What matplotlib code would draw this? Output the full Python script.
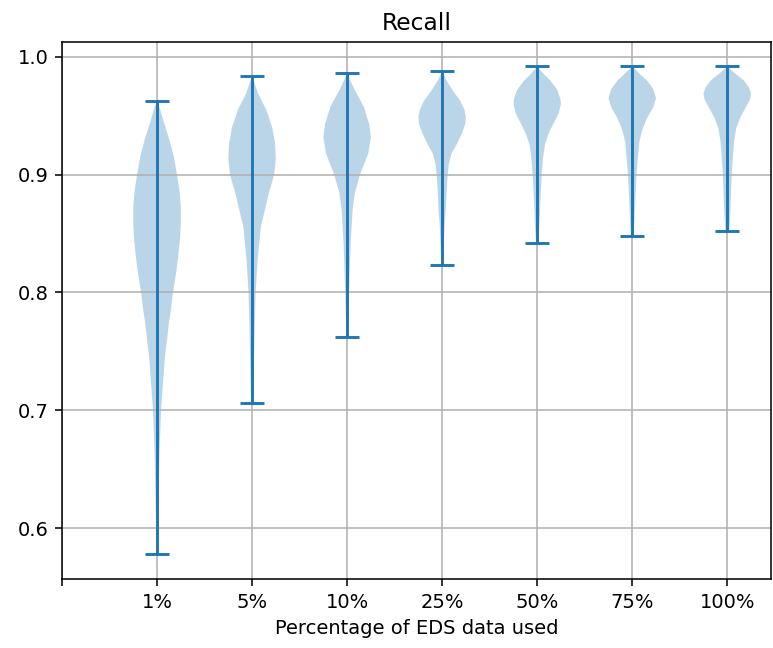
import numpy as np
import matplotlib
matplotlib.use("Agg")
import matplotlib.pyplot as plt

labels = ["1%", "5%", "10%", "25%", "50%", "75%", "100%"]

# Recall at which each density profile is sampled, with the relative violin width there
recall_1 = [0.578, 0.618, 0.661, 0.700, 0.745, 0.760, 0.774, 0.788, 0.800, 0.816, 0.830, 0.844,
            0.858, 0.873, 0.887, 0.900, 0.915, 0.929, 0.943, 0.955, 0.963]
width_1 = [0.03, 0.06, 0.10, 0.17, 0.33, 0.42, 0.50, 0.60, 0.67, 0.80, 0.89, 0.96,
           1.00, 1.00, 0.94, 0.84, 0.71, 0.53, 0.31, 0.14, 0.0]

recall_5 = [0.706, 0.729, 0.771, 0.800, 0.827, 0.856, 0.870, 0.884, 0.900, 0.914, 0.926, 0.940, 0.955, 0.969, 0.984]
width_5 = [0.04, 0.07, 0.11, 0.15, 0.23, 0.37, 0.54, 0.70, 0.93, 1.00, 0.97, 0.85, 0.60, 0.25, 0.0]

recall_10 = [0.762, 0.800, 0.842, 0.870, 0.884, 0.900, 0.918, 0.932, 0.943, 0.958, 0.972, 0.986]
width_10 = [0.03, 0.08, 0.15, 0.23, 0.32, 0.54, 0.89, 1.00, 0.93, 0.70, 0.32, 0.0]

recall_25 = [0.823, 0.856, 0.870, 0.884, 0.900, 0.909, 0.918, 0.926, 0.935, 0.943, 0.949,
             0.955, 0.963, 0.971, 0.980, 0.988]
width_25 = [0.03, 0.10, 0.15, 0.18, 0.23, 0.28, 0.39, 0.61, 0.82, 0.96, 0.99,
            0.93, 0.75, 0.46, 0.18, 0.0]

recall_50 = [0.842, 0.856, 0.870, 0.884, 0.900, 0.915, 0.926, 0.935, 0.944, 0.952, 0.960,
             0.964, 0.972, 0.980, 0.986, 0.992]
width_50 = [0.05, 0.09, 0.12, 0.15, 0.19, 0.25, 0.33, 0.48, 0.70, 0.90, 1.00,
            0.98, 0.85, 0.55, 0.25, 0.0]

recall_75 = [0.848, 0.870, 0.884, 0.900, 0.915, 0.928, 0.938, 0.948, 0.957, 0.965, 0.973,
             0.980, 0.986, 0.992]
width_75 = [0.06, 0.11, 0.14, 0.18, 0.24, 0.30, 0.42, 0.62, 0.88, 1.00, 0.88,
            0.62, 0.30, 0.0]

recall_100 = [0.852, 0.870, 0.884, 0.900, 0.918, 0.929, 0.940, 0.949, 0.957, 0.964, 0.969,
              0.974, 0.980, 0.986, 0.992]
width_100 = [0.08, 0.13, 0.15, 0.18, 0.24, 0.28, 0.37, 0.54, 0.75, 0.93, 0.97,
             0.89, 0.68, 0.32, 0.0]

recalls = [recall_1, recall_5, recall_10, recall_25, recall_50, recall_75, recall_100]
widths = [width_1, width_5, width_10, width_25, width_50, width_75, width_100]

stats = []
for r, w in zip(recalls, widths):
    r = np.asarray(r)
    stats.append({
        "coords": r,
        "vals": np.asarray(w),
        "mean": float(np.average(r, weights=w)),
        "median": float(np.average(r, weights=w)),
        "min": float(r.min()),
        "max": float(r.max()),
    })

dpi = 140
fig = plt.figure(figsize=(773 / dpi, 648 / dpi), dpi=dpi)
ax = fig.add_axes([62 / 773, 69 / 648, 709 / 773, 537 / 648])

positions = np.arange(1, len(labels) + 1)
ax.violin(stats, positions=positions, widths=0.5, showextrema=True)

ax.set_xticks(np.arange(0, len(labels) + 1))
ax.set_xticklabels([""] + labels)
ax.set_xlim(0, 7.46)
ax.set_ylim(0.5567, 1.0127)
ax.grid(True)
ax.set_title("Recall")
ax.set_xlabel("Percentage of EDS data used")

fig.savefig("out.png", dpi=dpi)
